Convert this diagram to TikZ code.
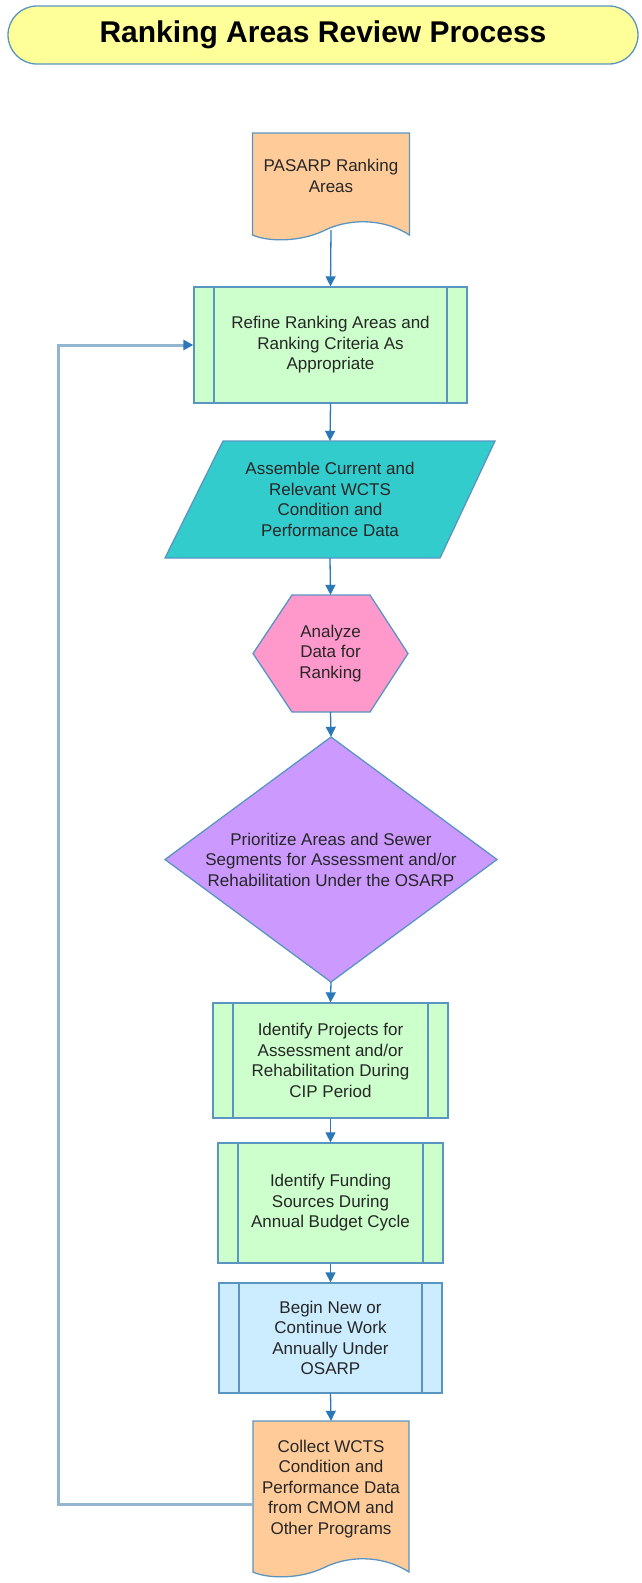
\documentclass[tikz,border=0pt]{standalone}
\usepackage{fontspec}
\setmainfont{Liberation Sans}
\usetikzlibrary{arrows.meta}
\definecolor{bordc}{HTML}{5A95C2}
\definecolor{arrc}{HTML}{2B78B8}
\definecolor{fbc}{HTML}{93B6D0}
\definecolor{ttlfill}{HTML}{FFFF99}
\definecolor{docfill}{HTML}{FFCC99}
\definecolor{procfill}{HTML}{CCFFCC}
\definecolor{asmfill}{HTML}{33CCCC}
\definecolor{hexfill}{HTML}{FF99CC}
\definecolor{dmdfill}{HTML}{CC99FF}
\definecolor{bluefill}{HTML}{CCECFF}
\definecolor{txtc}{HTML}{262626}
\begin{document}
\begin{tikzpicture}[x=1pt,y=-1pt,
  txt/.style={font=\fontsize{17}{20.5}\selectfont, text=txtc, align=center, inner sep=0pt},
  frame/.style={txt, rectangle, minimum width=#1},
  shapeline/.style={draw=bordc, line width=1.3pt},
  predef/.style={txt, rectangle, shapeline, minimum width=#1,
    path picture={\draw[bordc,line width=1.3pt]
      ([xshift=20pt]path picture bounding box.north west) -- ([xshift=20pt]path picture bounding box.south west)
      ([xshift=-20pt]path picture bounding box.north east) -- ([xshift=-20pt]path picture bounding box.south east);}},
  arr/.style={draw=arrc, line width=1.3pt, -{Triangle[length=10pt,width=10pt]}},
  fb/.style={draw=fbc, line width=3pt, -{Triangle[length=10pt,width=10pt,color=arrc]}},
  ttl/.style={rectangle, rounded corners=29pt, draw=bordc, line width=1.3pt, fill=ttlfill,
    minimum width=630pt, minimum height=58pt, inner sep=0pt,
    font=\fontsize{30}{35}\selectfont\bfseries, text=black}
]
\useasboundingbox (0,0) rectangle (641,1583);

% title
\node[ttl] (title) at (323,35) {Ranking Areas Review Process};

% PASARP document
\draw[shapeline, fill=docfill] (252.5,133) -- (252.5,235) .. controls (268.2,242) and (299.6,242) .. (323.2,231)
  .. controls (346.7,219) and (381.2,217) .. (409.5,235) -- (409.5,133) -- cycle;
\node[frame=157pt, minimum height=97pt] (pas) at (331,181.5) {};
\node[txt] (pastxt) at (331,176) {PASARP Ranking\\Areas};

% refine
\node[predef=273pt, fill=procfill, minimum height=116pt] (refine) at (330.5,345)
  {Refine Ranking Areas and\\Ranking Criteria As\\Appropriate};

% assemble parallelogram
\draw[shapeline, fill=asmfill] (223,441) -- (495,441) -- (440,558) -- (165,558) -- cycle;
\node[frame=220pt, minimum height=117pt] (asm) at (330,499.5)
  {Assemble Current and\\Relevant WCTS\\Condition and\\Performance Data};

% hexagon
\draw[shapeline, fill=hexfill] (292,595) -- (370,595) -- (408,653.5) -- (370,712) -- (292,712) -- (253,653.5) -- cycle;
\node[frame=120pt, minimum height=117pt] (hex) at (330.5,653.5) {Analyze\\Data for\\Ranking};

% diamond
\draw[shapeline, fill=dmdfill] (331,737) -- (497,859.5) -- (331,982) -- (165,859.5) -- cycle;
\node[frame=280pt, minimum height=245pt] (dmd) at (331,859.5)
  {Prioritize Areas and Sewer\\Segments for Assessment and/or\\Rehabilitation Under the OSARP};

% identify projects
\node[predef=235pt, fill=procfill, minimum height=115pt] (proj) at (330.5,1060.5)
  {Identify Projects for\\Assessment and/or\\Rehabilitation During\\CIP Period};

% identify funding
\node[predef=225pt, fill=procfill, minimum height=120pt] (fund) at (330.5,1203)
  {Identify Funding\\Sources During\\Annual Budget Cycle};

% begin new
\node[predef=223pt, fill=bluefill, minimum height=110pt] (begin) at (330.5,1338)
  {Begin New or\\Continue Work\\Annually Under\\OSARP};

% collect document
\draw[shapeline, fill=docfill] (253,1421) -- (253,1572) .. controls (268.6,1579) and (299.8,1579) .. (323.2,1568)
  .. controls (346.6,1556) and (380.9,1554) .. (409,1572) -- (409,1421) -- cycle;
\node[frame=156pt, minimum height=166pt] (collect) at (331,1504) {};
\node[txt] (coltxt) at (331,1489) {Collect WCTS\\Condition and\\Performance Data\\from CMOM and\\Other Programs};

% connectors
\draw[arr] (pas.south) -- (refine.north);
\draw[arr] (refine.south) -- (asm.north);
\draw[arr] (asm.south) -- (hex.north);
\draw[arr] (hex.south) -- (dmd.north);
\draw[arr] (dmd.south) -- (proj.north);
\draw[arr] (proj.south) -- (fund.north);
\draw[arr] (fund.south) -- (begin.north);
\draw[arr] (begin.south) -- (collect.north);
\draw[fb] (collect.west) -- ++(-194,0) |- (refine.west);
\end{tikzpicture}
\end{document}
